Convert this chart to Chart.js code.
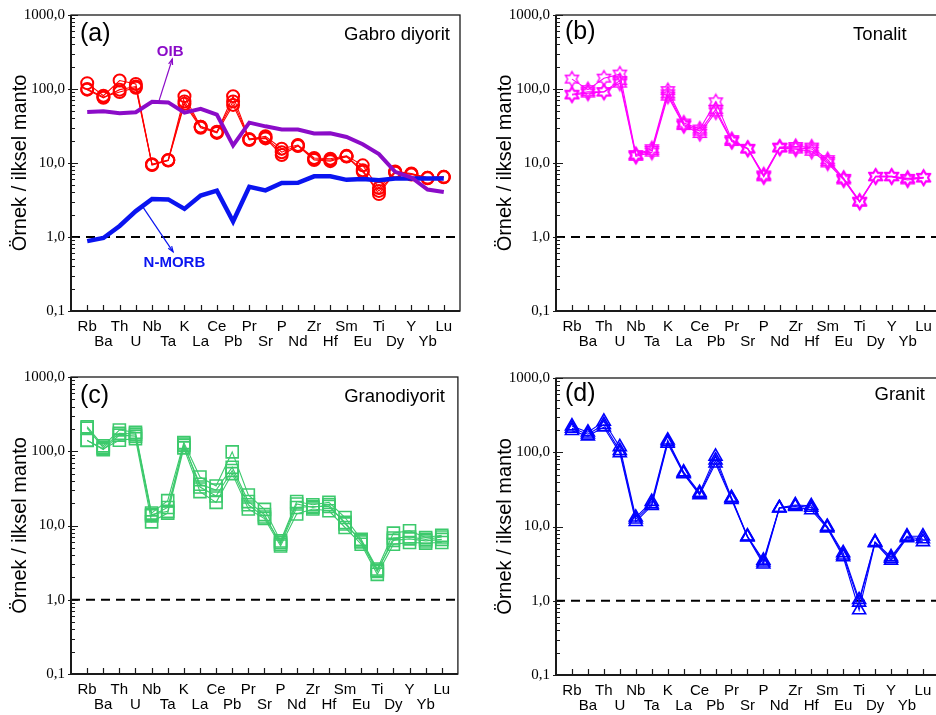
<!DOCTYPE html>
<html>
<head>
<meta charset="utf-8">
<title>Örnek / ilksel manto</title>
<script src="https://cdn.jsdelivr.net/npm/chart.js@4/dist/chart.umd.min.js"></script>
<style>
  html, body { margin: 0; padding: 0; background: #fff; }
  #wrap { position: relative; width: 936px; height: 715px; overflow: hidden; background: #fff; }
  .panel { position: absolute; }
  canvas { display: block; }
</style>
</head>
<body>
<div id="wrap">
  <div class="panel" style="left:0;top:0;"><canvas id="pa" width="468" height="360"></canvas></div>
  <div class="panel" style="left:468px;top:0;"><canvas id="pb" width="480" height="360"></canvas></div>
  <div class="panel" style="left:0;top:360px;"><canvas id="pc" width="468" height="355"></canvas></div>
  <div class="panel" style="left:468px;top:360px;"><canvas id="pd" width="480" height="355"></canvas></div>
</div>
<script>
// Element order along the x axis (primitive-mantle normalised spider diagram)
const elements = ['Rb','Ba','Th','U','Nb','Ta','K','La','Ce','Pb','Pr','Sr','P','Nd','Zr','Hf','Sm','Eu','Ti','Dy','Y','Yb','Lu'];
const yTickValues = [0.1, 1, 10, 100, 1000];
const unityLevel = 1;

// Reference compositions
const oib   = [48.8, 50.1, 47.1, 48.6, 67.3, 65.9, 48.0, 53.9, 45.1, 17.3, 35.1, 31.3, 28.4, 28.4, 25.0, 25.2, 22.5, 17.9, 13.2, 7.6, 6.37, 4.38, 4.05];
const nmorb = [0.88, 0.97, 1.41, 2.24, 3.27, 3.22, 2.40, 3.64, 4.23, 1.62, 4.78, 4.27, 5.37, 5.39, 6.61, 6.63, 5.92, 6.07, 5.85, 6.17, 6.15, 6.19, 6.15];

// (a) Gabro diyorit
const gabro1 = [120, 81, 130, 117, 9.5, 10.9, 80, 31, 26, 80, 21, 23, 15.6, 17.5, 11.7, 11.4, 12.5, 9.3, 4.6, 7.7, 7.2, 6.3, 6.5];
const gabro2 = [98, 76, 98, 108, 9.6, 11.0, 68, 31, 26.5, 68, 21, 21.5, 12.8, 17.0, 11.0, 10.6, 12.2, 7.6, 4.2, 7.4, 7.0, 6.2, 6.4];
const gabro3 = [100, 78, 91, 104, 9.4, 10.8, 63, 30, 25.5, 61, 20.5, 22, 14.0, 17.2, 11.3, 11.0, 12.3, 8.0, 3.8, 7.5, 7.1, 6.3, 6.5];

// (b) Tonalit
const tonalit1 = [136, 98, 140, 159, 13.0, 15.6, 95, 34.7, 28.8, 67, 20.7, 15.6, 6.9, 16.4, 16.7, 16.4, 11.1, 6.2, 3.0, 6.6, 6.6, 6.2, 6.4];
const tonalit2 = [83, 88, 91, 120, 12.3, 14.0, 80, 32, 25, 49, 19.5, 15.4, 6.5, 15.9, 15.4, 14.4, 10.0, 5.9, 2.95, 6.5, 6.5, 5.9, 6.3];
const tonalit3 = [85, 92, 92, 130, 12.7, 14.8, 86, 33, 27, 53, 20, 15.8, 6.7, 16.2, 16.0, 15.5, 10.5, 6.1, 3.05, 6.6, 6.6, 6.1, 6.3];

// (c) Granodiyorit
const granodiyorit1 = [214, 118, 193, 180, 14.7, 21.6, 131, 45, 34, 98, 25.8, 16.5, 6.2, 21, 19, 20.5, 12.8, 6.5, 2.6, 7.9, 8.5, 6.9, 7.4];
const granodiyorit2 = [141, 105, 165, 160, 13.5, 17.5, 120, 36, 30, 61, 21, 14, 5.6, 17.5, 18, 18, 11, 6.0, 2.4, 6.8, 7.0, 6.5, 7.0];
const granodiyorit3 = [140, 108, 141, 148, 11.2, 14.7, 111, 28.6, 20.5, 50, 16.7, 12.4, 5.3, 14.3, 16.7, 15.8, 9.4, 5.6, 2.2, 5.6, 5.9, 5.8, 5.9];
const granodiyorit4 = [205, 112, 175, 170, 14.0, 15.5, 125, 33, 25, 55, 19, 13, 5.9, 19.5, 17.5, 19, 10.5, 6.2, 2.5, 6.3, 6.6, 6.2, 6.5];

// (d) Granit
const granit1 = [225, 186, 260, 118, 13.3, 21.6, 145, 54, 28.6, 88, 24.5, 7.4, 3.5, 17.9, 19.5, 19, 10.0, 4.4, 1.03, 6.2, 3.9, 7.4, 7.4];
const granit2 = [195, 165, 218, 98, 11.6, 19.0, 131, 51, 26.6, 71, 23, 7.2, 3.1, 17.6, 18.5, 16.7, 9.5, 3.9, 0.75, 6.0, 3.5, 7.0, 6.2];
const granit3 = [210, 175, 235, 105, 12.5, 20.0, 138, 52, 27.5, 78, 24, 7.3, 3.3, 17.8, 19, 18, 9.8, 4.1, 0.95, 6.1, 3.7, 7.2, 6.8];

const RED = '#ff0000', MAGENTA = '#ff00ff', GREEN = '#3cc96c', BLUE = '#0000ff', PURPLE = '#8b0cc8', REFBLUE = '#0a14f0';

Chart.defaults.font.family = "'Liberation Sans', Arial, sans-serif";
Chart.defaults.color = '#000';

const toPoints = arr => arr.map((v, i) => ({ x: i, y: v }));

// Six-pointed star marker
function hexagram(color, r) {
  const s = Math.ceil(r * 2 + 4);
  const c = document.createElement('canvas');
  c.width = s; c.height = s;
  const g = c.getContext('2d');
  g.strokeStyle = color; g.lineWidth = 1.4;
  g.beginPath();
  for (let k = 0; k < 12; k++) {
    const a = -Math.PI / 2 + k * Math.PI / 6;
    const rr = k % 2 === 0 ? r : r * 0.58;
    g.lineTo(s / 2 + rr * Math.cos(a), s / 2 + rr * Math.sin(a));
  }
  g.closePath(); g.stroke();
  return c;
}

function sampleSet(values, color, style, radius, bw) {
  return {
    data: toPoints(values), borderColor: color, backgroundColor: 'rgba(0,0,0,0)',
    borderWidth: 1.1, pointStyle: style, pointRadius: radius, pointBorderColor: color,
    pointBackgroundColor: 'rgba(0,0,0,0)', pointBorderWidth: bw, order: 5, tension: 0
  };
}

// Frame, inner tick marks, panel letters, titles and arrows
const decoPlugin = {
  id: 'deco',
  afterDraw(chart, args, o) {
    const { ctx, chartArea: a, scales: { x, y } } = chart;
    ctx.save();
    ctx.strokeStyle = '#1a1a1a';
    ctx.lineWidth = 1.3;
    ctx.strokeRect(a.left, a.top, a.right - a.left, a.bottom - a.top);
    ctx.lineWidth = 2;
    ctx.beginPath(); ctx.moveTo(a.left, a.top); ctx.lineTo(a.left, a.bottom); ctx.lineTo(a.right, a.bottom); ctx.stroke();

    // x ticks pointing up into the plot
    ctx.lineWidth = 1.2;
    ctx.beginPath();
    elements.forEach((e, i) => {
      const px = Math.round(x.getPixelForValue(i)) + 0.5;
      ctx.moveTo(px, a.bottom); ctx.lineTo(px, a.bottom - 6);
    });
    ctx.stroke();

    // log ticks on the y axis
    ctx.beginPath();
    for (let d = -1; d <= 3; d++) {
      for (let m = 1; m <= 9; m++) {
        const v = m * Math.pow(10, d);
        if (v > 1000.0001) break;
        const py = Math.round(y.getPixelForValue(v)) + 0.5;
        const major = m === 1;
        ctx.moveTo(a.left - (major ? 3 : 0), py);
        ctx.lineTo(a.left + (major ? 7 : 4), py);
      }
    }
    ctx.stroke();

    // panel letter and rock name
    ctx.fillStyle = '#000';
    ctx.textBaseline = 'middle';
    ctx.font = "25px 'Liberation Sans', Arial, sans-serif";
    ctx.textAlign = 'left';
    ctx.fillText(o.letter, a.left + o.letterDx, a.top + o.letterDy);
    ctx.font = "18.5px 'Liberation Sans', Arial, sans-serif";
    ctx.textAlign = 'right';
    ctx.fillText(o.name, a.right - o.nameDx, a.top + o.nameDy);

    // y axis title
    ctx.save();
    ctx.translate(a.left - 51, (a.top + a.bottom) / 2);
    ctx.rotate(-Math.PI / 2);
    ctx.textAlign = 'center';
    ctx.font = "20px 'Liberation Sans', Arial, sans-serif";
    ctx.fillText('Örnek / ilksel manto', 0, 0);
    ctx.restore();

    // labelled arrows for the reference curves
    (o.notes || []).forEach(n => {
      const x0 = x.getPixelForValue(n.from[0]), y0 = y.getPixelForValue(n.from[1]);
      const x1 = x.getPixelForValue(n.to[0]), y1 = y.getPixelForValue(n.to[1]);
      ctx.strokeStyle = n.color; ctx.lineWidth = 1.2;
      ctx.beginPath(); ctx.moveTo(x0, y0); ctx.lineTo(x1, y1); ctx.stroke();
      const ang = Math.atan2(y1 - y0, x1 - x0);
      ctx.beginPath();
      ctx.moveTo(x1 - 6 * Math.cos(ang - 0.35), y1 - 6 * Math.sin(ang - 0.35));
      ctx.lineTo(x1, y1);
      ctx.lineTo(x1 - 6 * Math.cos(ang + 0.35), y1 - 6 * Math.sin(ang + 0.35));
      ctx.stroke();
      ctx.fillStyle = n.color;
      ctx.font = "bold 15px 'Liberation Sans', Arial, sans-serif";
      ctx.textAlign = 'center';
      ctx.fillText(n.text, x.getPixelForValue(n.at[0]), y.getPixelForValue(n.at[1]));
    });
    ctx.restore();
  }
};

function makePanel(id, datasets, geom, deco) {
  const all = [{
    data: [{ x: -1, y: unityLevel }, { x: 23, y: unityLevel }],
    borderColor: '#000', borderWidth: 2, borderDash: [9, 6], pointRadius: 0, order: 30
  }].concat(datasets);
  return new Chart(document.getElementById(id), {
    type: 'line',
    data: { datasets: all },
    plugins: [decoPlugin],
    options: {
      responsive: false, animation: false, events: [],
      layout: { padding: { top: geom.top, right: geom.right, left: 0, bottom: 0 } },
      plugins: { legend: { display: false }, tooltip: { enabled: false }, deco: deco },
      scales: {
        x: {
          type: 'linear', min: -1, max: 23,
          grid: { display: false, drawTicks: false }, border: { display: false },
          afterBuildTicks: s => { s.ticks = elements.map((e, i) => ({ value: i })); },
          afterFit: s => { s.height = geom.xh; },
          ticks: {
            autoSkip: false, maxRotation: 0, minRotation: 0, padding: 8, color: '#000',
            font: { size: 15, lineHeight: 1.0 },
            callback: (v, i) => (i % 2 === 0 ? [elements[i], ''] : ['', elements[i]])
          }
        },
        y: {
          type: 'logarithmic', min: 0.1, max: 1000,
          grid: { display: false, drawTicks: false }, border: { display: false },
          afterBuildTicks: s => { s.ticks = yTickValues.map(v => ({ value: v })); },
          afterFit: s => { s.width = geom.yw; },
          ticks: {
            autoSkip: false, padding: 6, color: '#000',
            font: { family: "'Liberation Serif', 'Times New Roman', serif", size: 15 },
            callback: v => Number(v).toFixed(1).replace('.', ',')
          }
        }
      }
    }
  });
}

// (a)
makePanel('pa', [
  { data: toPoints(oib), borderColor: PURPLE, borderWidth: 4, pointRadius: 0, order: 1 },
  { data: toPoints(nmorb), borderColor: REFBLUE, borderWidth: 4.5, pointRadius: 0, order: 1 },
  sampleSet(gabro1, RED, 'circle', 6, 2),
  sampleSet(gabro2, RED, 'circle', 6, 2),
  sampleSet(gabro3, RED, 'circle', 6, 2)
], { top: 13, right: 8, yw: 71, xh: 49 }, {
  letter: '(a)', letterDx: 9, letterDy: 19, name: 'Gabro diyorit', nameDx: 10, nameDy: 20,
  notes: [
    { text: 'OIB', color: PURPLE, from: [4.4, 66], to: [5.25, 254], at: [5.12, 316] },
    { text: 'N-MORB', color: REFBLUE, from: [3.44, 2.54], to: [5.3, 0.63], at: [5.38, 0.45] }
  ]
});

// (b)
const star = hexagram(MAGENTA, 7.5);
makePanel('pb', [
  sampleSet(tonalit1, MAGENTA, star, 7, 1.4),
  sampleSet(tonalit2, MAGENTA, star, 7, 1.4),
  sampleSet(tonalit3, MAGENTA, star, 7, 1.4)
], { top: 13, right: 3, yw: 88, xh: 49 }, {
  letter: '(b)', letterDx: 9, letterDy: 17, name: 'Tonalit', nameDx: 33, nameDy: 20
});

// (c)
makePanel('pc', [
  sampleSet(granodiyorit1, GREEN, 'rect', 8.5, 1.6),
  sampleSet(granodiyorit2, GREEN, 'rect', 8.5, 1.6),
  sampleSet(granodiyorit3, GREEN, 'rect', 8.5, 1.6),
  sampleSet(granodiyorit4, GREEN, 'rect', 8.5, 1.6)
], { top: 17, right: 8, yw: 71, xh: 41 }, {
  letter: '(c)', letterDx: 9, letterDy: 19, name: 'Granodiyorit', nameDx: 13, nameDy: 20
});

// (d)
makePanel('pd', [
  sampleSet(granit1, BLUE, 'triangle', 7.5, 1.6),
  sampleSet(granit2, BLUE, 'triangle', 7.5, 1.6),
  sampleSet(granit3, BLUE, 'triangle', 7.5, 1.6)
], { top: 18, right: 3, yw: 88, xh: 40 }, {
  letter: '(d)', letterDx: 9, letterDy: 16, name: 'Granit', nameDx: 14, nameDy: 17
});
</script>
</body>
</html>
